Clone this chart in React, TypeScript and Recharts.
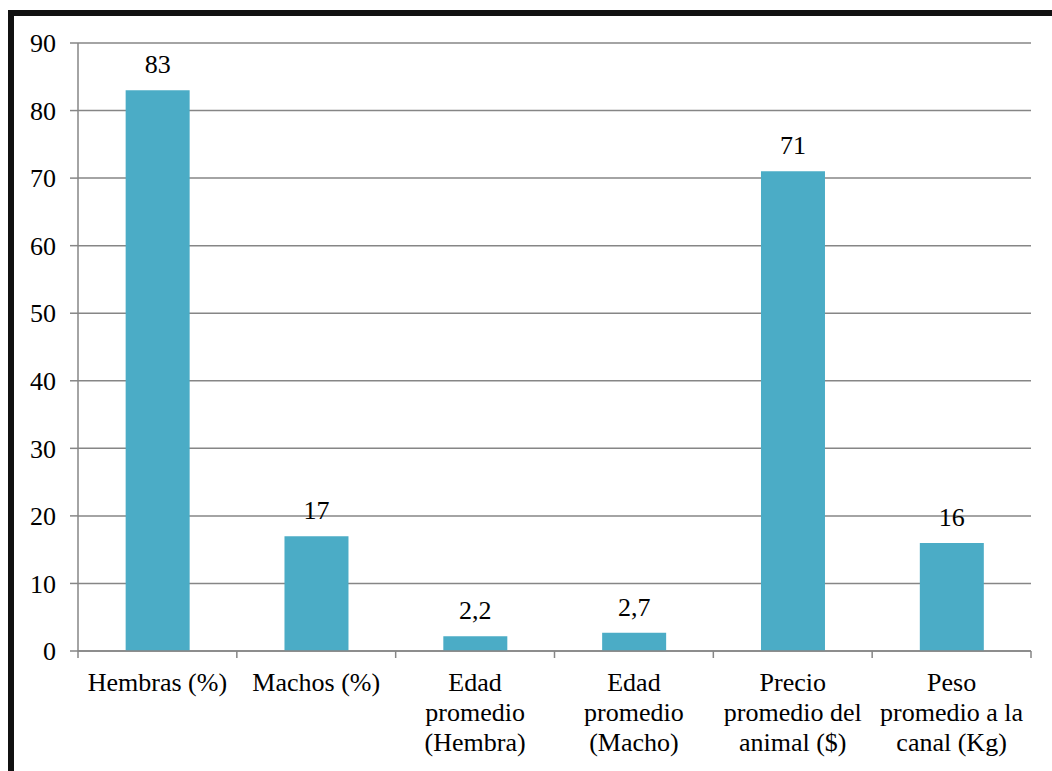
import React from "react";
import { BarChart, Bar, XAxis, YAxis, CartesianGrid, LabelList } from "recharts";

const categories = [
  "Hembras (%)",
  "Machos (%)",
  "Edad\npromedio\n(Hembra)",
  "Edad\npromedio\n(Macho)",
  "Precio\npromedio del\nanimal ($)",
  "Peso\npromedio a la\ncanal (Kg)",
];
const values = [83, 17, 2.2, 2.7, 71, 16];
const yTicks = [0, 10, 20, 30, 40, 50, 60, 70, 80, 90];

const data = categories.map((name, i) => ({ name, value: values[i] }));

const FONT = "Liberation Serif";
const FS = 26;
const AXIS = "#868686";
const BAR = "#4BACC6";

const XTick = (props: any) => {
  const { x, y, payload, index, visibleTicksCount } = props;
  const off = payload && payload.offset ? payload.offset : 0;
  const lines = String(payload.value).split("\n");
  const last = index === (visibleTicksCount ?? categories.length) - 1;
  return (
    <g>
      <line x1={x - off} x2={x - off} y1={y} y2={y + 7} stroke={AXIS} strokeWidth={1.5} />
      {last && <line x1={x + off} x2={x + off} y1={y} y2={y + 7} stroke={AXIS} strokeWidth={1.5} />}
      <text textAnchor="middle" fontFamily={FONT} fontSize={FS} fill="#000">
        {lines.map((l, i) => (
          <tspan key={i} x={x} y={y + 40 + i * 30}>
            {l}
          </tspan>
        ))}
      </text>
    </g>
  );
};

export default function App() {
  return (
    <>
      <div style={{ position: "fixed", left: 0, top: 0, width: 1052, height: 771, background: "#fff" }}>
        <BarChart
          width={1052}
          height={771}
          data={data}
          margin={{ top: 43, right: 21, bottom: 0, left: 0 }}
          barCategoryGap="30%"
        >
          <CartesianGrid horizontal vertical={false} stroke={AXIS} strokeWidth={1.5} />
          <XAxis
            dataKey="name"
            interval={0}
            height={120}
            tickSize={0}
            tickMargin={0}
            tickLine={false}
            axisLine={{ stroke: AXIS, strokeWidth: 1.5 }}
            tick={<XTick />}
          />
          <YAxis
            width={78}
            domain={[0, 90]}
            ticks={yTicks}
            interval={0}
            tickSize={8}
            tickMargin={14}
            axisLine={{ stroke: AXIS, strokeWidth: 1.5 }}
            tickLine={{ stroke: AXIS, strokeWidth: 1.5 }}
            tick={{ fill: "#000", fontSize: FS, fontFamily: FONT }}
          />
          <Bar dataKey="value" fill={BAR} isAnimationActive={false}>
            <LabelList
              dataKey="value"
              position="top"
              offset={17}
              fill="#000"
              fontSize={FS}
              fontFamily={FONT}
              formatter={(v: any) => String(v).replace(".", ",")}
            />
          </Bar>
        </BarChart>
      </div>
      <div
        style={{
          position: "fixed",
          left: 8,
          top: 10,
          width: 1044,
          height: 761,
          boxSizing: "border-box",
          borderTop: "6px solid #111",
          borderLeft: "6px solid #111",
          pointerEvents: "none",
        }}
      />
    </>
  );
}
